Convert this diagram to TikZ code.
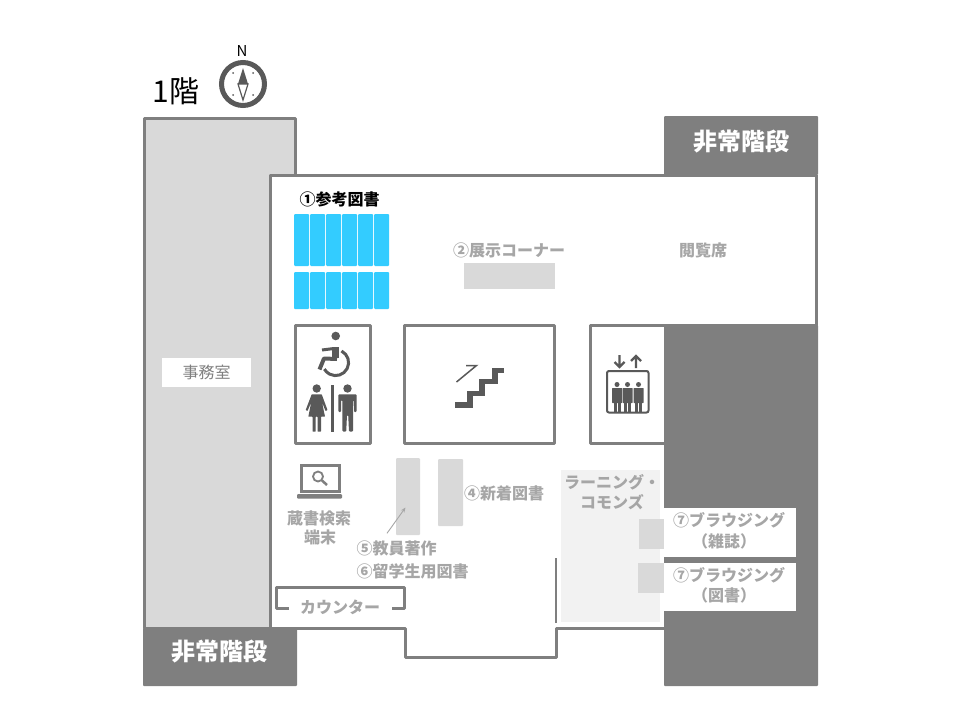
\documentclass[tikz,border=0pt]{standalone}
\usepackage{fontspec}
\setmainfont{Noto Sans CJK JP}
\usepackage{tikz}
\usetikzlibrary{arrows.meta}
\definecolor{wallgray}{HTML}{7F7F7F}
\definecolor{roomgray}{HTML}{D9D9D9}
\definecolor{labelgray}{HTML}{A6A6A6}
\definecolor{icongray}{HTML}{595959}
\definecolor{shelfblue}{HTML}{33CCFF}
\tikzset{
  wall/.style={draw=wallgray,line width=3pt,line join=round},
  label/.style={text=labelgray,font=\fontsize{16}{18}\selectfont\bfseries,inner sep=0pt},
  exitlabel/.style={text=white,font=\fontsize{24}{26}\selectfont\bfseries,inner sep=0pt},
  shelf/.style={fill=shelfblue,rounded corners=1pt},
  iconline/.style={draw=icongray,line width=2pt},
}
\begin{document}
\begin{tikzpicture}[x=1pt,y=-1pt]
    \useasboundingbox (0,0) rectangle (960,720);

    % Title and compass
    \node[inner sep=0pt,font=\fontsize{30}{32}\selectfont] (floor) at (176,91) {1階};
    \node[inner sep=0pt,font=\fontsize{15}{17}\selectfont] (north) at (242,51) {N};
    \draw[icongray,line width=5pt] (243,84) circle (21.5);
    \fill[icongray] (243,68) -- (248,84) -- (238,84) -- cycle;
    \draw[icongray,line width=1.2pt,fill=white] (238,84) -- (248,84) -- (243,100) -- cycle;
    \foreach \px/\py in {233/73,253/73,233/95,253/95}
        \fill[icongray] (\px,\py) circle (1);

    % Office
    \draw[wall,fill=roomgray] (144.5,118) -- (295.5,118) -- (295.5,175) -- (270,175) -- (270,628) -- (144.5,628) -- cycle;
    \node[fill=white,minimum width=89pt,minimum height=29pt,inner sep=0pt,text=wallgray,font=\fontsize{16}{18}\selectfont] (office) at (206.5,372.5) {事務室};

    % Dark blocks
    \fill[wallgray,rounded corners=1pt] (664,116) rectangle (818,175);
    \fill[wallgray,rounded corners=1pt] (664,325) rectangle (818,686);
    \fill[wallgray,rounded corners=1pt] (143,628) rectangle (297,686);
    \node[exitlabel] (exitnorth) at (741,142) {非常階段};
    \node[exitlabel] (exitsouth) at (219,652) {非常階段};

    % Main room
    \fill[white] (270,175) rectangle (816,325);
    \fill[white] (270,325) rectangle (664,628);
    \draw[wall] (816,175) -- (270,175) -- (270,628) -- (405,628) -- (405,657) -- (556,657) -- (556,628) -- (664,628);
    \draw[wall] (816,175) -- (816,325) -- (664,325);

    % Reference shelves
    \node[inner sep=0pt,font=\fontsize{16}{18}\selectfont\bfseries] (reference) at (339.5,199) {①参考図書};
    \foreach \px in {294,310,326,342,358,374} {
        \fill[shelf] (\px,214) rectangle (\px+15,266);
        \fill[shelf] (\px,272) rectangle (\px+15,309);
    }

    % Exhibition and seats
    \node[label] (exhibit) at (509,250) {②展示コーナー};
    \fill[roomgray] (464,263) rectangle (555,289);
    \node[label] (seats) at (703,250) {閲覧席};

    % Core rooms
    \draw[wall] (295.5,325.5) rectangle (370.5,443);
    \draw[wall] (404.5,325.5) rectangle (554.5,443);
    \draw[wall] (664,325.5) -- (590.5,325.5) -- (590.5,443) -- (664,443);

    % Wheelchair
    \fill[icongray] (335.7,336) circle (4.3);
    \draw[icongray,line width=7pt,line join=round] (335.5,347) -- (335.5,358);
    \draw[icongray,line width=4pt,line join=round] (337,359) -- (324,358.5) -- (319.5,369.5);
    \draw[iconline,line width=3pt] (322,350) -- (334,348.5);
    \draw[iconline,line width=3pt] (341.5,351) arc (-63:150:13);

    % Woman
    \fill[icongray] (316.7,388.5) circle (4.2);
    \fill[icongray,rounded corners=0.5pt] (311.7,394.3) -- (321.7,394.3) -- (327.5,410) -- (325.5,411) -- (322,402) -- (325,416.7) -- (321,416.7) -- (321,431.7) -- (317.7,431.7) -- (317.7,416.7) -- (315.7,416.7) -- (315.7,431.7) -- (312.7,431.7) -- (312.7,416.7) -- (308.3,416.7) -- (311.3,402) -- (307.5,411) -- (305.7,410) -- cycle;
    % Man
    \fill[icongray] (347.5,388.5) circle (4.2);
    \fill[icongray,rounded corners=1pt] (338.3,394.3) -- (356.7,394.3) -- (356.7,412) -- (354,412) -- (354,400) -- (353.3,400) -- (353,431.7) -- (349,431.7) -- (348.2,415) -- (347,415) -- (346.2,431.7) -- (342.5,431.7) -- (342.3,400) -- (341,400) -- (341,412) -- (338.3,412) -- cycle;
    \draw[icongray,line width=2.6pt] (332.3,385) -- (332.3,431.7);

    % Stairs
    \draw[icongray,line width=5.5pt] (455,405) -- (470,405) -- (470,393.5) -- (482,393.5) -- (482,381.5) -- (495,381.5) -- (495,370.5) -- (504,370.5);
    \draw[icongray,line width=1.5pt] (456.5,382) -- (476.5,365.5) -- (466,365.5);

    % Elevator
    \draw[icongray,line width=2pt,rounded corners=2pt] (607,371) rectangle (648.5,412.5);
    \draw[icongray,line width=2.2pt] (619.5,355) -- (619.5,367) (614.5,362) -- (619.5,367) -- (624.5,362);
    \draw[icongray,line width=2.2pt] (636,368) -- (636,356) (631,361) -- (636,356) -- (641,361);
    \foreach \px in {617,627.5,638.5} {
        \fill[icongray] (\px,384.5) circle (2.5);
        \fill[icongray,rounded corners=0.5pt] (\px-5,388) rectangle (\px+5,403);
        \fill[icongray] (\px-3.5,403) rectangle (\px-0.5,412);
        \fill[icongray] (\px+0.5,403) rectangle (\px+3.5,412);
    }

    % Search terminal
    \draw[wallgray,line width=3pt] (301,465.5) rectangle (339,491);
    \fill[wallgray,rounded corners=1pt] (297,494) rectangle (342,498.5);
    \draw[wallgray,line width=1.8pt] (318,476.5) circle (5);
    \draw[wallgray,line width=2.5pt] (322,480.5) -- (327,485);
    \node[label] (search) at (319,518) {蔵書検索};
    \node[label] (terminal) at (320,537) {端末};

    % Shelves
    \fill[roomgray,rounded corners=1pt] (396,458) rectangle (420,535);
    \fill[roomgray,rounded corners=1pt] (438,459) rectangle (463,526);
    \node[label,anchor=west] (newbooks) at (464,493) {④新着図書};
    \node[label,anchor=west] (faculty) at (356.5,548) {⑤教員著作};
    \node[label,anchor=west] (students) at (356.5,571) {⑥留学生用図書};
    \coordinate (facultyend) at (387,533.3);
    \coordinate (facultyshelf) at (405.5,507.5);
    \draw[labelgray,line width=0.9pt,-{Stealth[length=5pt,width=4pt]}] (facultyend) -- (facultyshelf);

    % Counter
    \draw[wall] (289,608.5) -- (276.5,608.5) -- (276.5,587.5) -- (404,587.5) -- (404,608.5) -- (392,608.5);
    \node[label] (counter) at (340,607) {カウンター};

    % Learning commons
    \fill[black!5] (561,470) rectangle (660,622);
    \node[label] (commonsa) at (612,482) {ラーニング・};
    \node[label] (commonsb) at (612,502) {コモンズ};
    \draw[wallgray,line width=2.5pt] (556,558) -- (556,623);

    % Browsing
    \fill[white] (664,508) rectangle (796,557);
    \fill[white] (664,563) rectangle (796,611);
    \fill[roomgray] (639,519) rectangle (664,549);
    \fill[roomgray] (638,563) rectangle (664,593);
    \node[label] (magazines) at (729,520) {⑦ブラウジング};
    \node[label] (magazinesb) at (724,541) {（雑誌）};
    \node[label] (books) at (729,575) {⑦ブラウジング};
    \node[label] (booksb) at (724,595) {（図書）};
\end{tikzpicture}
\end{document}
